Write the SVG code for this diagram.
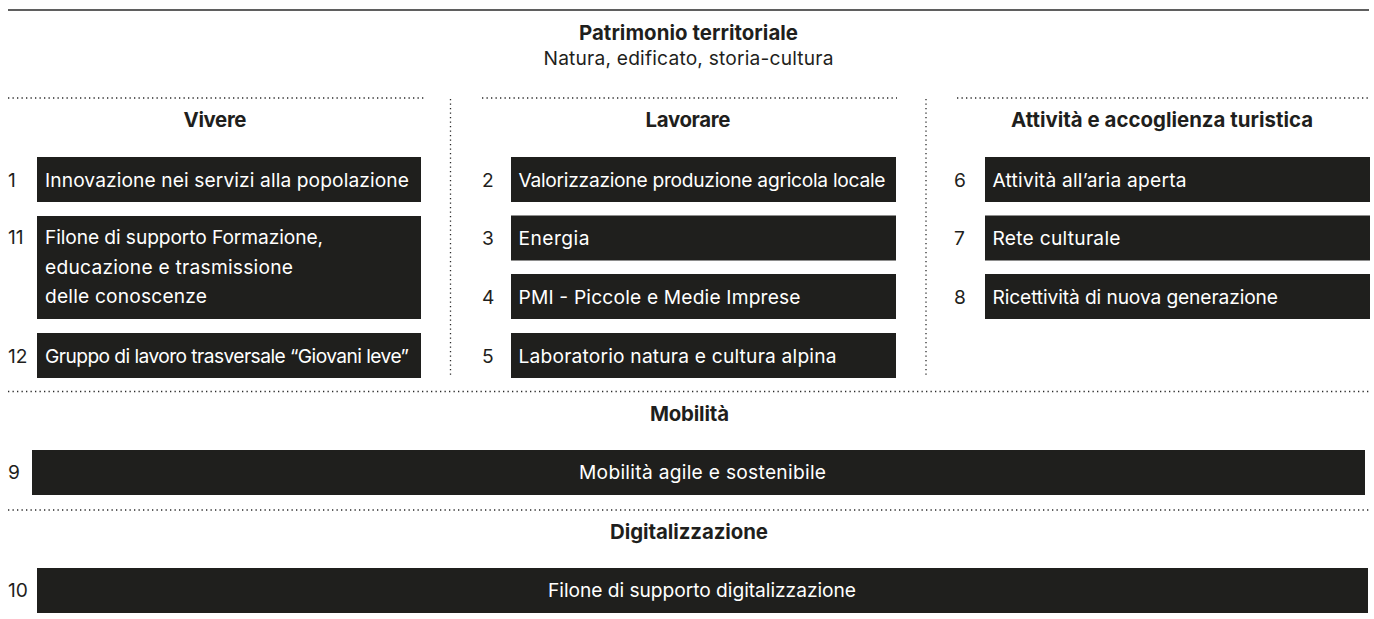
<svg xmlns="http://www.w3.org/2000/svg" width="1374" height="619" viewBox="0 0 1374 619">
<style>
  .bg{fill:#ffffff}
  .box{fill:#1f1f1d}
  .t{font-family:Inter,"Liberation Sans",sans-serif;font-size:19.2px;fill:#1f1f1d}
  .h{font-family:Inter,"Liberation Sans",sans-serif;font-size:20.4px;font-weight:700;fill:#1f1f1d;text-anchor:middle}
  .w{font-family:Inter,"Liberation Sans",sans-serif;font-size:19.2px;fill:#ffffff}
  .wc{font-family:Inter,"Liberation Sans",sans-serif;font-size:19.2px;fill:#ffffff;text-anchor:middle}
  .dot{stroke:#2a2a2a;stroke-width:1.3;stroke-dasharray:1.3 3.2;fill:none}
  .solid{stroke:#2a2a2a;stroke-width:1.3;fill:none}
</style>
<rect class="bg" x="0" y="0" width="1374" height="619"/>
<g id="connectors">
  <line class="solid" x1="8" y1="10" x2="1369" y2="10"/>
  <line class="dot" x1="8" y1="98" x2="424" y2="98"/>
  <line class="dot" x1="482" y1="98" x2="897" y2="98"/>
  <line class="dot" x1="957" y1="98" x2="1369" y2="98"/>
  <line class="dot" x1="450.5" y1="99" x2="450.5" y2="377"/>
  <line class="dot" x1="926" y1="99" x2="926" y2="377"/>
  <line class="dot" x1="8" y1="391.5" x2="1369" y2="391.5"/>
  <line class="dot" x1="8" y1="510" x2="1369" y2="510"/>
</g>
<g id="header">
  <text class="h" x="688.5" y="40" textLength="219">Patrimonio territoriale</text>
  <text class="t" x="688.5" y="65" text-anchor="middle" textLength="290">Natura, edificato, storia-cultura</text>
</g>
<g id="col-vivere">
  <text class="h" x="215" y="127" textLength="63">Vivere</text>
</g>
<g id="col-lavorare">
  <text class="h" x="688" y="127" textLength="85">Lavorare</text>
</g>
<g id="col-attivita">
  <text class="h" x="1162" y="127" textLength="302">Attività e accoglienza turistica</text>
</g>
<g id="node-1">
  <text class="t" x="8" y="186.7">1</text>
  <rect class="box" x="37" y="157" width="384" height="45"/>
  <text class="w" x="45" y="186.7" textLength="364">Innovazione nei servizi alla popolazione</text>
</g>
<g id="node-11">
  <text class="t" x="8" y="244">11</text>
  <rect class="box" x="37" y="216" width="384" height="103"/>
  <text class="w" x="45" y="244" textLength="278">Filone di supporto Formazione,</text>
  <text class="w" x="45" y="273.5" textLength="248">educazione e trasmissione</text>
  <text class="w" x="45" y="303" textLength="162">delle conoscenze</text>
</g>
<g id="node-12">
  <text class="t" x="8" y="362.5">12</text>
  <rect class="box" x="37" y="333" width="384" height="45"/>
  <text class="w" x="45" y="362.5" textLength="364">Gruppo di lavoro trasversale “Giovani leve”</text>
</g>
<g id="node-2">
  <text class="t" x="482" y="186.7">2</text>
  <rect class="box" x="511" y="157" width="385" height="45"/>
  <text class="w" x="518.5" y="186.7" textLength="367">Valorizzazione produzione agricola locale</text>
</g>
<g id="node-3">
  <text class="t" x="482" y="245">3</text>
  <rect class="box" x="511" y="215.5" width="385" height="45"/>
  <text class="w" x="518.5" y="245" textLength="71">Energia</text>
</g>
<g id="node-4">
  <text class="t" x="482" y="303.5">4</text>
  <rect class="box" x="511" y="274" width="385" height="45"/>
  <text class="w" x="518.5" y="303.5" textLength="282">PMI - Piccole e Medie Imprese</text>
</g>
<g id="node-5">
  <text class="t" x="482" y="362.5">5</text>
  <rect class="box" x="511" y="333" width="385" height="45"/>
  <text class="w" x="518.5" y="362.5" textLength="318">Laboratorio natura e cultura alpina</text>
</g>
<g id="node-6">
  <text class="t" x="954" y="186.7">6</text>
  <rect class="box" x="985" y="157" width="385" height="45"/>
  <text class="w" x="992.5" y="186.7" textLength="194">Attività all’aria aperta</text>
</g>
<g id="node-7">
  <text class="t" x="954" y="245">7</text>
  <rect class="box" x="985" y="215.5" width="385" height="45"/>
  <text class="w" x="992.5" y="245" textLength="128">Rete culturale</text>
</g>
<g id="node-8">
  <text class="t" x="954" y="303.5">8</text>
  <rect class="box" x="985" y="274" width="385" height="45"/>
  <text class="w" x="992.5" y="303.5" textLength="285.5">Ricettività di nuova generazione</text>
</g>
<g id="section-mobilita">
  <text class="h" x="689.5" y="421" textLength="79">Mobilità</text>
</g>
<g id="node-9">
  <text class="t" x="8" y="479">9</text>
  <rect class="box" x="32" y="450" width="1333" height="45"/>
  <text class="wc" x="702.5" y="479" textLength="247">Mobilità agile e sostenibile</text>
</g>
<g id="section-digitalizzazione">
  <text class="h" x="689" y="539" textLength="158">Digitalizzazione</text>
</g>
<g id="node-10">
  <text class="t" x="8" y="597">10</text>
  <rect class="box" x="37" y="568" width="1331" height="45"/>
  <text class="wc" x="702" y="597" textLength="308">Filone di supporto digitalizzazione</text>
</g>
</svg>
